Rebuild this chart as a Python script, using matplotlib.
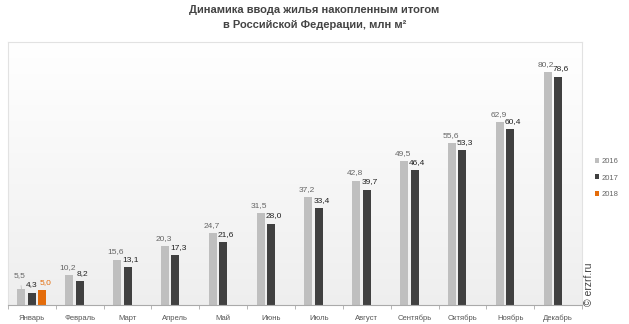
import numpy as np
import matplotlib
matplotlib.use('Agg')
import matplotlib.pyplot as plt

months = ['Январь', 'Февраль', 'Март', 'Апрель', 'Май', 'Июнь', 'Июль',
          'Август', 'Сентябрь', 'Октябрь', 'Ноябрь', 'Декабрь']
v2016 = [5.5, 10.2, 15.6, 20.3, 24.7, 31.5, 37.2, 42.8, 49.5, 55.6, 62.9, 80.2]
v2017 = [4.3, 8.2, 13.1, 17.3, 21.6, 28.0, 33.4, 39.7, 46.4, 53.3, 60.4, 78.6]
v2018 = [5.0]
years = ['2016', '2017', '2018']

c16 = '#bfbfbf'
c17 = '#404040'
c18 = '#e46c0a'

plt.rcParams['font.family'] = ['Liberation Sans', 'DejaVu Sans']

fig = plt.figure(figsize=(6.29, 3.24), dpi=100)
ax = fig.add_axes([8/629, 19/324, 574/629, 263/324])

x = np.arange(len(months))
w = 0.167
off = 0.22

# фон с лёгким градиентом (сверху белый, снизу светло-серый)
g = np.linspace(1.0, 0.935, 100).reshape(-1, 1, 1)
ax.imshow(np.repeat(g, 3, axis=2), extent=[-0.5, 11.5, 0, 90.5], aspect='auto',
          zorder=0, interpolation='bilinear')

b16 = ax.bar(x - off, v2016, w, color=c16, zorder=2, label=years[0])
b17 = ax.bar(x, v2017, w, color=c17, zorder=2, label=years[1])
b18 = ax.bar(x[:len(v2018)] + off, v2018, w, color=c18, zorder=2, label=years[2])

def fmt(v):
    return ('%.1f' % v).replace('.', ',')

for i, v in enumerate(v2016):
    dy = 10 if i == 0 else 5.5
    props = dict(arrowstyle='-', color='#bbbbbb', lw=0.5, shrinkA=3, shrinkB=0) if i == 0 else None
    ax.annotate(fmt(v), (x[i] - off, v), xytext=(-1, dy), textcoords='offset points',
                ha='center', va='center', fontsize=6, color='#666666',
                arrowprops=props)
for i, v in enumerate(v2017):
    dx = 0 if i == 0 else 2
    ax.annotate(fmt(v), (x[i], v), xytext=(dx, 5.5), textcoords='offset points',
                ha='center', va='center', fontsize=6, color='#222222')
for i, v in enumerate(v2018):
    ax.annotate(fmt(v), (x[i] + off, v), xytext=(2, 5.5), textcoords='offset points',
                ha='center', va='center', fontsize=6, color=c18)

ax.set_xlim(-0.5, 11.5)
ax.set_ylim(0, 90.5)
ax.set_yticks([])
ax.set_xticks(x)
ax.set_xticklabels(months, fontsize=5.5, color='#555555')
ax.tick_params(axis='x', length=0, pad=7)
ax.set_xticks(np.arange(-0.5, 12, 1), minor=True)
ax.tick_params(axis='x', which='minor', length=3, color='#aaaaaa', width=0.6)

for s in ['top', 'left', 'right']:
    ax.spines[s].set_color('#e2e2e2')
    ax.spines[s].set_linewidth(0.8)
ax.spines['bottom'].set_color('#aaaaaa')
ax.spines['bottom'].set_linewidth(0.8)

fig.text(0.5, 0.968, 'Динамика ввода жилья накопленным итогом',
         ha='center', va='center', fontsize=8, fontweight='bold', color='#444444')
fig.text(0.5, 0.922, 'в Российской Федерации, млн м²',
         ha='center', va='center', fontsize=8, fontweight='bold', color='#444444')

fig.text(589/629, 1 - 284/324, '© erzrf.ru', rotation=90, ha='center', va='center',
         fontsize=7.5, color='#444444')

leg = fig.legend(handles=[b16, b17, b18], labels=years, loc='center left',
                 bbox_to_anchor=(591/629, 1 - 178/324), frameon=False, fontsize=5.5,
                 handlelength=0.6, handleheight=0.6, handletextpad=0.3,
                 labelspacing=1.2, borderpad=0)
for t in leg.get_texts():
    t.set_color('#666666')

fig.savefig('out.png', dpi=100)
